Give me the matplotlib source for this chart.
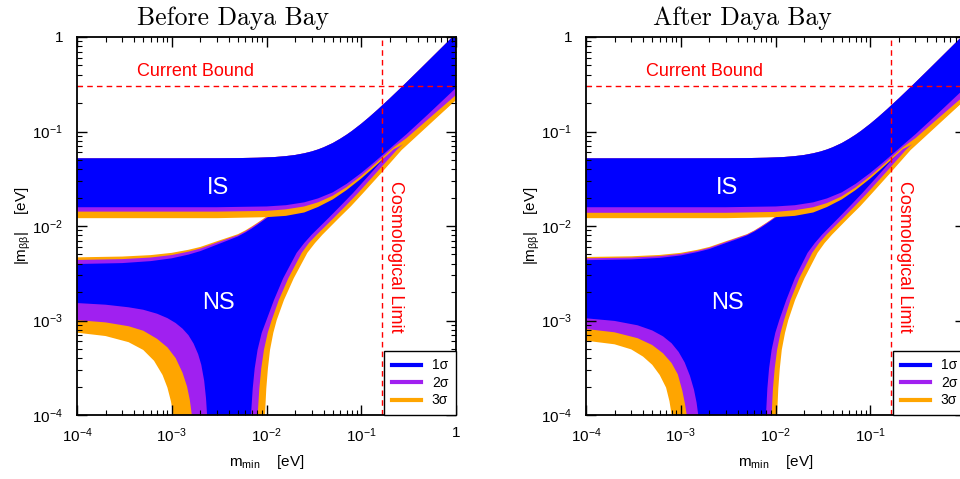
import math
import matplotlib
matplotlib.use('Agg')
import matplotlib.pyplot as plt
from matplotlib.ticker import FuncFormatter, LogLocator, NullFormatter
from matplotlib.lines import Line2D

plt.rcParams['font.family'] = ['Liberation Sans', 'DejaVu Sans']
plt.rcParams['mathtext.fontset'] = 'custom'
plt.rcParams['mathtext.rm'] = 'Liberation Sans'
plt.rcParams['mathtext.it'] = 'Liberation Sans:italic'
plt.rcParams['mathtext.bf'] = 'Liberation Sans:bold'

BLUE = '#0000ff'
PURPLE = '#a020f0'
ORANGE = '#ffa500'

titles = ['Before Daya Bay', 'After Daya Bay']
sigma_labels = ['1σ', '2σ', '3σ']
current_bound = 0.3
cosmo_limit = 0.165

# inverted spectrum, upper edge (same in both panels)
ih_up_m = [1e-4, 1e-3, 3e-3, 5e-3, 8e-3, 0.012, 0.016, 0.02, 0.025, 0.03, 0.035, 0.04, 0.05, 0.06,
           0.07, 0.08, 0.1, 0.12, 0.15, 0.2, 0.25, 0.3, 0.4, 0.5, 0.7, 0.87, 1.0]
ih_up_y = [0.052, 0.052, 0.0521, 0.0523, 0.0528, 0.0536, 0.0549, 0.0564, 0.0588, 0.0615, 0.0646, 0.0680,
           0.0754, 0.0838, 0.0925, 0.1016, 0.1208, 0.1408, 0.1716, 0.2241, 0.2774, 0.3311, 0.4390, 0.5475,
           0.7648, 0.9498, 1.0913]

# inverted spectrum, lower edges
ih_lo_m = [1e-4, 3e-3, 0.01, 0.016, 0.025, 0.035, 0.05, 0.07, 0.1, 0.13, 0.17, 0.22, 0.3, 0.5, 1.0]
before_ih_lo1 = [0.0158, 0.0158, 0.0161, 0.0166, 0.0178, 0.0196, 0.0227, 0.0279, 0.0364, 0.0452, 0.057, 0.0715, 0.0935, 0.150, 0.289]
before_ih_lo2 = [0.0142, 0.0142, 0.01445, 0.0150, 0.0161, 0.0178, 0.0209, 0.0258, 0.0340, 0.0426, 0.054, 0.068, 0.085, 0.133, 0.243]
before_ih_lo3 = [0.0121, 0.0121, 0.0124, 0.0128, 0.0139, 0.0159, 0.0191, 0.0240, 0.0318, 0.0400, 0.051, 0.065, 0.076, 0.118, 0.2155]
after_ih_lo1 = [0.0158, 0.0158, 0.0161, 0.0166, 0.0178, 0.0196, 0.0227, 0.0279, 0.0364, 0.0452, 0.057, 0.0715, 0.0935, 0.150, 0.289]
after_ih_lo2 = [0.0138, 0.0138, 0.0141, 0.0147, 0.0158, 0.0175, 0.0206, 0.0256, 0.0338, 0.0424, 0.0538, 0.068, 0.085, 0.133, 0.243]
after_ih_lo3 = [0.0121, 0.0121, 0.0124, 0.0128, 0.0139, 0.0159, 0.0191, 0.0240, 0.0318, 0.0400, 0.051, 0.065, 0.076, 0.118, 0.2155]

# normal spectrum, upper edges
nh_up_m = [1e-4, 3e-4, 6e-4, 1e-3, 1.5e-3, 2e-3, 3e-3, 4e-3, 5e-3, 6e-3, 7e-3, 8e-3, 9e-3, 1e-2,
           1.2e-2, 0.02, 0.04, 0.1, 0.2, 0.5, 1.0]
before_nh_up1 = [3.96e-3, 4.05e-3, 4.25e-3, 4.55e-3, 4.98e-3, 5.42e-3, 6.35e-3, 7.1e-3, 7.75e-3, 8.55e-3,
                 0.0094, 0.0103, 0.0112, 0.0121, 0.0140, 0.023, 0.045, 0.11, 0.2, 0.5, 1.08]
before_nh_up2 = [4.37e-3, 4.46e-3, 4.64e-3, 4.93e-3, 5.35e-3, 5.77e-3, 6.68e-3, 7.4e-3, 8.0e-3, 8.8e-3,
                 0.0097, 0.0106, 0.0115, 0.0124, 0.0143, 0.023, 0.045, 0.11, 0.2, 0.5, 1.08]
before_nh_up3 = [4.66e-3, 4.75e-3, 4.92e-3, 5.2e-3, 5.6e-3, 6.0e-3, 6.9e-3, 7.6e-3, 8.2e-3, 9.0e-3,
                 0.0099, 0.0108, 0.0117, 0.0126, 0.0145, 0.023, 0.045, 0.11, 0.2, 0.5, 1.08]
after_nh_up1 = [4.35e-3, 4.43e-3, 4.6e-3, 4.88e-3, 5.3e-3, 5.7e-3, 6.6e-3, 7.3e-3, 7.95e-3, 8.75e-3,
                0.0096, 0.0105, 0.0114, 0.0123, 0.0142, 0.023, 0.045, 0.11, 0.2, 0.5, 1.08]
after_nh_up2 = [4.55e-3, 4.63e-3, 4.8e-3, 5.07e-3, 5.47e-3, 5.88e-3, 6.78e-3, 7.5e-3, 8.1e-3, 8.9e-3,
                0.0098, 0.0107, 0.0116, 0.0125, 0.0144, 0.023, 0.045, 0.11, 0.2, 0.5, 1.08]
after_nh_up3 = [4.70e-3, 4.78e-3, 4.94e-3, 5.2e-3, 5.6e-3, 6.0e-3, 6.9e-3, 7.6e-3, 8.2e-3, 9.0e-3,
                0.0099, 0.0108, 0.0117, 0.0126, 0.0145, 0.023, 0.045, 0.11, 0.2, 0.5, 1.08]

# normal spectrum, lower edge left of the cancellation
before_ll1_m = [1e-4, 2e-4, 3.5e-4, 5e-4, 7e-4, 9e-4, 1.1e-3, 1.3e-3, 1.5e-3, 1.7e-3, 1.9e-3, 2.05e-3, 2.2e-3, 2.3e-3, 2.36e-3]
before_ll1_y = [1.53e-3, 1.47e-3, 1.38e-3, 1.30e-3, 1.18e-3, 1.06e-3, 0.94e-3, 0.82e-3, 0.70e-3, 0.57e-3, 0.44e-3, 0.34e-3, 0.23e-3, 0.15e-3, 1.0e-4]
before_ll2_m = [1e-4, 2e-4, 3.5e-4, 5e-4, 7e-4, 9e-4, 1.1e-3, 1.3e-3, 1.45e-3, 1.55e-3, 1.63e-3]
before_ll2_y = [1.01e-3, 0.955e-3, 0.87e-3, 0.78e-3, 0.64e-3, 0.52e-3, 0.40e-3, 0.28e-3, 0.20e-3, 0.145e-3, 1.0e-4]
before_ll3_m = [1e-4, 2e-4, 3.5e-4, 5e-4, 6.5e-4, 8e-4, 9e-4, 9.8e-4, 1.04e-3]
before_ll3_y = [7.43e-4, 6.85e-4, 5.9e-4, 4.88e-4, 3.75e-4, 2.65e-4, 1.95e-4, 1.4e-4, 1.0e-4]
after_ll1_m = [1e-4, 2e-4, 3.5e-4, 5e-4, 6.5e-4, 8e-4, 9.5e-4, 1.1e-3, 1.25e-3, 1.38e-3, 1.47e-3, 1.53e-3]
after_ll1_y = [1.055e-3, 0.99e-3, 0.89e-3, 0.785e-3, 0.68e-3, 0.575e-3, 0.465e-3, 0.36e-3, 0.26e-3, 0.185e-3, 0.135e-3, 1.0e-4]
after_ll2_m = [1e-4, 2e-4, 3.5e-4, 5e-4, 6.5e-4, 8e-4, 9.3e-4, 1.04e-3, 1.11e-3, 1.156e-3]
after_ll2_y = [8.13e-4, 7.5e-4, 6.5e-4, 5.5e-4, 4.5e-4, 3.55e-4, 2.7e-4, 1.8e-4, 1.3e-4, 1.0e-4]
after_ll3_m = [1e-4, 2e-4, 3e-4, 4e-4, 5e-4, 6e-4, 7e-4, 7.6e-4, 8.02e-4]
after_ll3_y = [6.11e-4, 5.6e-4, 4.95e-4, 4.15e-4, 3.4e-4, 2.65e-4, 1.95e-4, 1.4e-4, 1.0e-4]

# normal spectrum, lower edge right of the cancellation
lr_y_common = [1e-4, 1.9e-4, 3.1e-4, 4.9e-4, 7.4e-4, 1.01e-3, 1.65e-3, 2.8e-3, 5.2e-3, 6.6e-3, 8.1e-3,
               0.0121, 0.0162, 0.0223, 0.0374, 0.0637]
lr_m_tail = [0.3, 0.5, 1.0]
lr_y_tail1 = [0.0903, 0.148, 0.289]
lr_y_tail2 = [0.0794, 0.1277, 0.243]
lr_y_tail3 = [0.0709, 0.1136, 0.2155]
before_lr1_m = [6.86e-3, 7.15e-3, 7.5e-3, 8.05e-3, 8.9e-3, 1.0e-2, 1.2e-2, 1.5e-2, 2.08e-2, 2.5e-2, 3.0e-2,
                4.5e-2, 6.0e-2, 8.18e-2, 0.13, 0.209]
before_lr2_m = [8.07e-3, 8.4e-3, 8.8e-3, 9.4e-3, 1.03e-2, 1.135e-2, 1.35e-2, 1.7e-2, 2.355e-2, 2.8e-2, 3.4e-2,
                5.1e-2, 6.8e-2, 9.25e-2, 0.147, 0.2366]
before_lr3_m = [9.64e-3, 9.95e-3, 1.035e-2, 1.09e-2, 1.18e-2, 1.282e-2, 1.53e-2, 1.94e-2, 2.7e-2, 3.25e-2, 3.9e-2,
                5.8e-2, 7.8e-2, 0.1047, 0.167, 0.267]
after_lr1_m = [7.94e-3, 8.2e-3, 8.55e-3, 9.1e-3, 9.95e-3, 1.096e-2, 1.3e-2, 1.6e-2, 2.18e-2, 2.6e-2, 3.1e-2,
               4.6e-2, 6.1e-2, 8.25e-2, 0.131, 0.21]
after_lr2_m = [9.1e-3, 9.4e-3, 9.8e-3, 1.04e-2, 1.13e-2, 1.23e-2, 1.44e-2, 1.78e-2, 2.44e-2, 2.89e-2, 3.45e-2,
               5.15e-2, 6.85e-2, 9.3e-2, 0.148, 0.237]
after_lr3_m = [1.04e-2, 1.07e-2, 1.11e-2, 1.165e-2, 1.26e-2, 1.365e-2, 1.61e-2, 2.02e-2, 2.78e-2, 3.3e-2, 3.95e-2,
               5.85e-2, 7.85e-2, 0.105, 0.167, 0.267]


def nh_polygon(up_y, ll_m, ll_y, lr_m, lr_y):
    xs = list(nh_up_m) + list(lr_m[::-1]) + [lr_m[0], ll_m[-1]] + list(ll_m[::-1])
    ys = list(up_y) + list(lr_y[::-1]) + [1e-7, 1e-7] + list(ll_y[::-1])
    return xs, ys


def ih_polygon(lo_y):
    xs = list(ih_up_m) + list(ih_lo_m[::-1])
    ys = list(ih_up_y) + list(lo_y[::-1])
    return xs, ys


def tick_fmt(v, pos):
    if abs(v - 1) < 1e-9:
        return '1'
    e = int(round(math.log10(v)))
    return r'$\mathdefault{10^{%d}}$' % e


def draw_panel(ax, title, nh, ih):
    colors = [BLUE, PURPLE, ORANGE]
    # normal hierarchy first, widest band at the bottom of the stack
    for k in [2, 1, 0]:
        xs, ys = nh_polygon(*nh[k])
        ax.fill(xs, ys, color=colors[k], lw=0)
    for k in [2, 1, 0]:
        xs, ys = ih_polygon(ih[k])
        ax.fill(xs, ys, color=colors[k], lw=0)

    ax.axhline(current_bound, color='red', ls=(0, (4, 3)), lw=1.0)
    ax.axvline(cosmo_limit, color='red', ls=(0, (4, 3)), lw=1.0)
    ax.text(1.8e-3, 0.43, 'Current Bound', color='red', fontsize=13, ha='center', va='center')
    ax.text(0.23, 4.7e-3, 'Cosmological Limit', color='red', fontsize=13, rotation=-90,
            ha='center', va='center')
    ax.text(3.1e-3, 0.0255, 'IS', color='white', fontsize=17, ha='center', va='center')
    ax.text(3.1e-3, 1.55e-3, 'NS', color='white', fontsize=17, ha='center', va='center')

    ax.set_xscale('log')
    ax.set_yscale('log')
    ax.set_xlim(1e-4, 1)
    ax.set_ylim(1e-4, 1)
    ax.xaxis.set_major_locator(LogLocator(base=10, numticks=10))
    ax.yaxis.set_major_locator(LogLocator(base=10, numticks=10))
    ax.xaxis.set_minor_locator(LogLocator(base=10, subs=range(2, 10), numticks=10))
    ax.yaxis.set_minor_locator(LogLocator(base=10, subs=range(2, 10), numticks=10))
    ax.xaxis.set_major_formatter(FuncFormatter(tick_fmt))
    ax.yaxis.set_major_formatter(FuncFormatter(tick_fmt))
    ax.xaxis.set_minor_formatter(NullFormatter())
    ax.yaxis.set_minor_formatter(NullFormatter())
    ax.tick_params(which='both', direction='in', top=True, right=True, labelsize=11)
    ax.tick_params(which='major', length=7, width=1.0)
    ax.tick_params(which='minor', length=3.5, width=0.8)
    ax.tick_params(axis='y', pad=10)
    ax.tick_params(axis='x', pad=8)
    for s in ax.spines.values():
        s.set_linewidth(1.3)

    ax.set_xlabel(r'm$_{\mathrm{min}}$    [eV]', fontsize=11)
    ax.set_ylabel(r'|m$_{\mathrm{ββ}}$|    [eV]', fontsize=11)
    ax.xaxis.set_label_coords(0.5, -0.1)
    ax.yaxis.set_label_coords(-0.115, 0.5)
    ax.text(0.412, 1.032, title, transform=ax.transAxes, ha='center', va='baseline',
            family='cmr10', fontsize=18.5)

    handles = [Line2D([], [], color=c, lw=3) for c in colors]
    leg = ax.legend(handles, sigma_labels, loc='lower right', borderaxespad=0,
                    fancybox=False, framealpha=1, edgecolor='black', fontsize=10,
                    handlelength=2.1, handletextpad=0.8, borderpad=0.55, labelspacing=0.25)
    leg.get_frame().set_linewidth(1.0)


fig = plt.figure(figsize=(9.6, 4.79), dpi=100)
ax1 = fig.add_axes([77 / 960, 64 / 479, 379 / 960, 378 / 479])
ax2 = fig.add_axes([586 / 960, 64 / 479, 379 / 960, 378 / 479])

before_nh = [
    (before_nh_up1, before_ll1_m, before_ll1_y, before_lr1_m + lr_m_tail, lr_y_common + lr_y_tail1),
    (before_nh_up2, before_ll2_m, before_ll2_y, before_lr2_m + lr_m_tail, lr_y_common + lr_y_tail2),
    (before_nh_up3, before_ll3_m, before_ll3_y, before_lr3_m + lr_m_tail, lr_y_common + lr_y_tail3),
]
after_nh = [
    (after_nh_up1, after_ll1_m, after_ll1_y, after_lr1_m + lr_m_tail, lr_y_common + lr_y_tail1),
    (after_nh_up2, after_ll2_m, after_ll2_y, after_lr2_m + lr_m_tail, lr_y_common + lr_y_tail2),
    (after_nh_up3, after_ll3_m, after_ll3_y, after_lr3_m + lr_m_tail, lr_y_common + lr_y_tail3),
]
draw_panel(ax1, titles[0], before_nh, [before_ih_lo1, before_ih_lo2, before_ih_lo3])
draw_panel(ax2, titles[1], after_nh, [after_ih_lo1, after_ih_lo2, after_ih_lo3])

# the right panel runs past the figure edge, as in the original; its last x label falls outside
ax2.get_xticklabels()[-1].set_visible(False) if len(ax2.get_xticklabels()) else None
for lab, val in zip(ax2.xaxis.get_majorticklabels(), ax2.get_xticks()):
    if val >= 1:
        lab.set_visible(False)

fig.savefig('out.png', dpi=100)
